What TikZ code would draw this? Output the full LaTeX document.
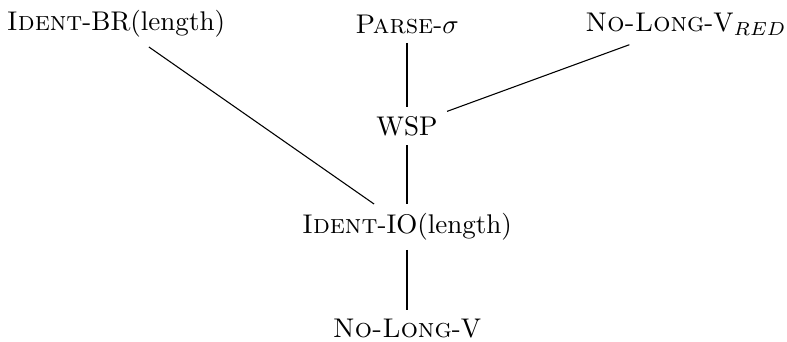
\documentclass[tikz,border=0pt]{standalone}
\begin{document}
\begin{tikzpicture}[x=0.37pt,y=-0.37pt,
  rank/.style={inner sep=3.3pt},
  upright/.style={line width=0.75pt},
  slant/.style={line width=0.4pt}]
\useasboundingbox (0,0) rectangle (787,341);
% constraints, top rank
\node[rank] (br)    at (116,24)  {\textsc{Ident}-BR(length)};
\node[rank] (parse) at (407,24)  {\textsc{Parse}-$\sigma$};
\node[rank] (red)   at (686,24)  {\textsc{No-Long}-V$_{RED}$};
% lower ranks
\node[rank] (wsp)   at (407,126) {WSP};
\node[rank] (io)    at (407,227) {\textsc{Ident}-IO(length)};
\node[rank] (nlv)   at (407,329) {\textsc{No-Long}-V};
% domination links
\draw[upright] (parse) -- (wsp);
\draw[slant]   (wsp) -- (red);
\draw[upright] (wsp) -- (io);
\draw[slant]   (br) -- (io);
\draw[upright] (io) -- (nlv);
\end{tikzpicture}
\end{document}
